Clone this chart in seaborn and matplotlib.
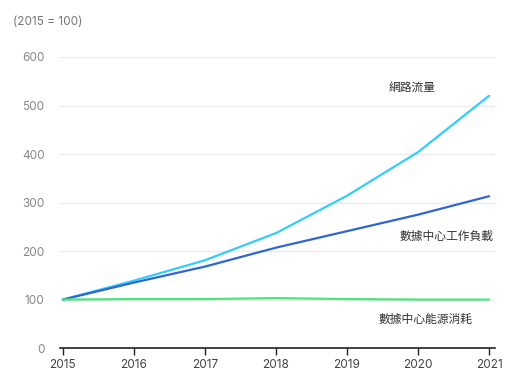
import pandas as pd
import seaborn as sns
import matplotlib.pyplot as plt

# ================================
# Data (index, 2015 = 100)
# ================================
years = [2015, 2016, 2017, 2018, 2019, 2020, 2021]
traffic = [100, 139, 181, 237, 314, 404, 520]
workload = [100, 135, 168, 207, 241, 275, 313]
energy = [100, 101, 101, 103, 101, 100, 100]

series_names = ["網路流量", "數據中心工作負載", "數據中心能源消耗"]
colors = ["#33cdfb", "#2e66d4", "#4be47f"]

df = pd.DataFrame({
    "year": years * 3,
    "value": traffic + workload + energy,
    "series": [series_names[0]] * 7 + [series_names[1]] * 7 + [series_names[2]] * 7,
})

sns.set_theme(style="white")
plt.rcParams['font.family'] = ['Noto Sans CJK TC', 'DejaVu Sans']

fig = plt.figure(figsize=(5.12, 3.8), dpi=100)
ax = fig.add_axes([0.117, 0.084, 0.85, 0.766])

ax.grid(axis="y", color="#ebebeb", linewidth=1.0)
ax.set_axisbelow(True)

sns.lineplot(
    data=df,
    x="year",
    y="value",
    hue="series",
    palette=dict(zip(series_names, colors)),
    linewidth=1.6,
    legend=False,
    ax=ax,
)

ax.set_xlim(2014.958, 2021.085)
ax.set_ylim(0, 600)
ax.set_xticks(years)
ax.set_xticklabels([str(y) for y in years], family="Inter")
ax.set_yticks([0, 100, 200, 300, 400, 500, 600])
ax.set_yticklabels(["0", "100", "200", "300", "400", "500", "600"], family="Inter")
ax.set_xlabel("")
ax.set_ylabel("")

for s in ["top", "right", "left"]:
    ax.spines[s].set_visible(False)
ax.spines["bottom"].set_color("#222222")
ax.spines["bottom"].set_linewidth(1.2)

ax.tick_params(axis="x", bottom=True, length=5, width=1, color="#222222",
               labelsize=8.5, labelcolor="#444444", pad=3)
ax.tick_params(axis="y", left=False, length=0, labelsize=8.5,
               labelcolor="#888888", pad=11)

# Direct labels
ax.text(2019.92, 537, series_names[0], fontsize=8.5, color="#333333",
        ha="center", va="center")
ax.text(2020.4, 230, series_names[1], fontsize=8.5, color="#333333",
        ha="center", va="center")
ax.text(2020.1, 59, series_names[2], fontsize=8.5, color="#333333",
        ha="center", va="center")

fig.text(0.025, 0.943, "(2015 = 100)", fontsize=8.5, color="#777777",
         ha="left", va="center", family="Inter")

plt.savefig("out.png", dpi=100)
